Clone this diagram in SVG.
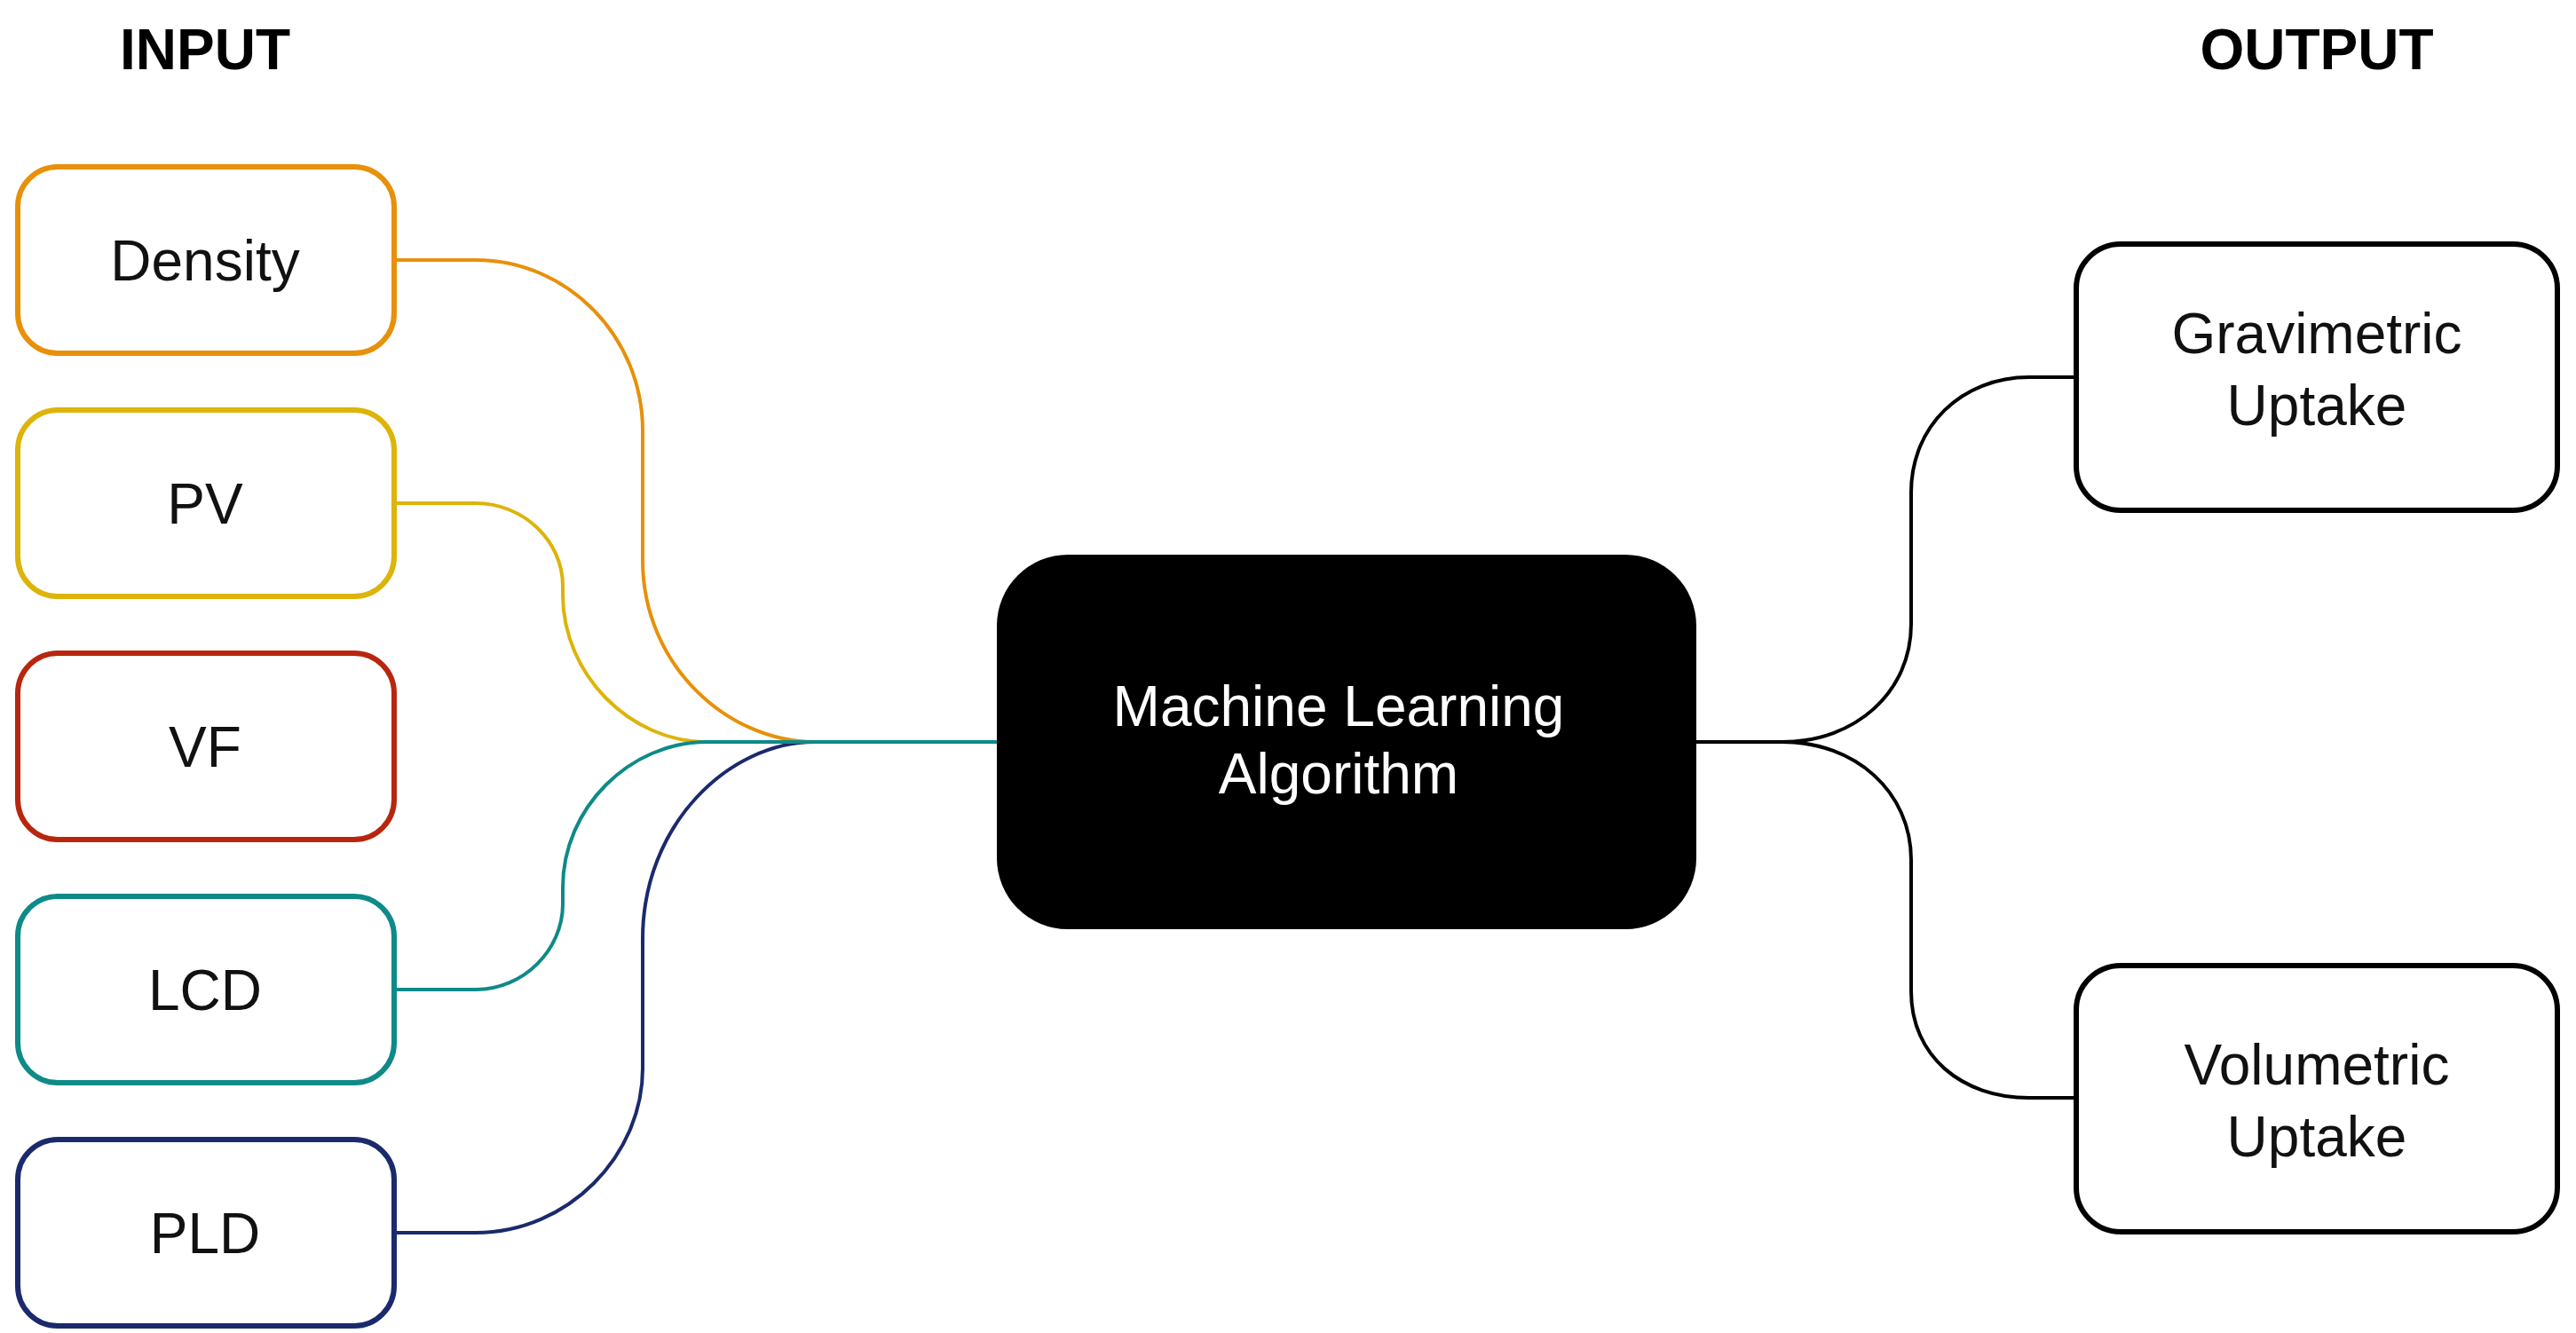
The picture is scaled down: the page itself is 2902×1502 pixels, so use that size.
<svg xmlns="http://www.w3.org/2000/svg" width="2902" height="1502" viewBox="0 0 2902 1502">
<style>
.box{fill:#fff;stroke-width:6}
.lbl{font-family:"Liberation Sans",Arial,sans-serif;font-size:64px;fill:#111;text-anchor:middle}
.hd{font-family:"Liberation Sans",Arial,sans-serif;font-size:64px;font-weight:bold;fill:#000;text-anchor:middle}
.c{fill:none;stroke-width:4}
</style>
<rect width="2902" height="1502" fill="#fff"/>
<text class="hd" x="231" y="78">INPUT</text>
<text class="hd" x="2610" y="78">OUTPUT</text>
<g id="connectors">
<path class="c" stroke="#E8900A" d="M444 293 H536 C640 293 724 380 724 485 V631 C724 750 820 836 918 836 H1123"/>
<path class="c" stroke="#DDB40A" d="M444 567 H536 C590 567 634 610 634 660 V670 C634 760 710 836 796 836 H1123"/>
<path class="c" stroke="#1A2A6C" d="M444 1389 H536 C640 1389 724 1302 724 1204 V1058 C724 930 820 836 918 836 H1123"/>
<path class="c" stroke="#0E8A88" d="M444 1115 H536 C590 1115 634 1070 634 1019 V1000 C634 910 710 836 796 836 H1123"/>
<path class="c" stroke="#000" d="M1911 836 H2008 C2090 836 2153 780 2153 703 V555 C2153 480 2210 425 2286 425 H2339"/>
<path class="c" stroke="#000" d="M1911 836 H2008 C2090 836 2153 892 2153 969 V1117 C2153 1190 2210 1237 2286 1237 H2339"/>
</g>
<g id="density"><rect class="box" stroke="#E8900A" x="20" y="188" width="424" height="210" rx="45"/><text class="lbl" x="231" y="316">Density</text></g>
<g id="pv"><rect class="box" stroke="#DDB40A" x="20" y="462" width="424" height="210" rx="45"/><text class="lbl" x="231" y="590">PV</text></g>
<g id="vf"><rect class="box" stroke="#B8260E" x="20" y="736" width="424" height="210" rx="45"/><text class="lbl" x="231" y="864">VF</text></g>
<g id="lcd"><rect class="box" stroke="#0E8A88" x="20" y="1010" width="424" height="210" rx="45"/><text class="lbl" x="231" y="1138">LCD</text></g>
<g id="pld"><rect class="box" stroke="#1A2A6C" x="20" y="1284" width="424" height="210" rx="45"/><text class="lbl" x="231" y="1412">PLD</text></g>
<g id="ml"><rect x="1123" y="625" width="788" height="422" rx="80" fill="#000"/><text class="lbl" fill="#fff" style="fill:#fff" x="1508" y="818">Machine Learning</text><text class="lbl" style="fill:#fff" x="1508" y="894">Algorithm</text></g>
<g id="grav"><rect class="box" stroke="#000" x="2339" y="275" width="542" height="300" rx="50"/><text class="lbl" x="2610" y="398">Gravimetric</text><text class="lbl" x="2610" y="479">Uptake</text></g>
<g id="vol"><rect class="box" stroke="#000" x="2339" y="1088" width="542" height="300" rx="50"/><text class="lbl" x="2610" y="1222">Volumetric</text><text class="lbl" x="2610" y="1303">Uptake</text></g>
</svg>
